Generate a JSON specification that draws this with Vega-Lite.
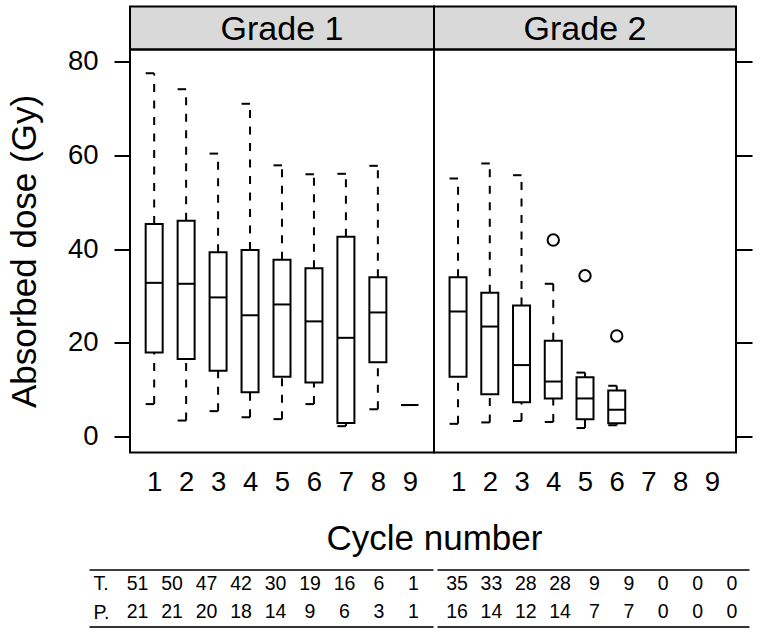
{
  "$schema": "https://vega.github.io/schema/vega-lite/v6.json",
  "autosize": {"type": "none"},
  "padding": {"left": 130, "top": 6.5, "right": 630, "bottom": 627.5},
  "background": "white",
  "config": {
    "font": "Liberation Sans",
    "axis": {"labelFont": "Liberation Sans", "titleFont": "Liberation Sans", "labelColor": "black", "titleColor": "black", "tickColor": "black", "domainColor": "black", "grid": false, "titleFontWeight": "normal", "labelFontSize": 27.5, "titleFontSize": 35},
    "view": {"stroke": "black", "strokeWidth": 2}
  },
  "datasets": {
    "boxes": [
      {"grade": "Grade 1", "cycle": 1, "lo": 7.0, "q1": 18.0, "med": 32.8, "q3": 45.3, "hi": 77.4},
      {"grade": "Grade 1", "cycle": 2, "lo": 3.5, "q1": 16.6, "med": 32.6, "q3": 46.0, "hi": 74.0},
      {"grade": "Grade 1", "cycle": 3, "lo": 5.5, "q1": 14.1, "med": 29.7, "q3": 39.3, "hi": 60.3},
      {"grade": "Grade 1", "cycle": 4, "lo": 4.2, "q1": 9.5, "med": 25.9, "q3": 39.8, "hi": 70.9},
      {"grade": "Grade 1", "cycle": 5, "lo": 3.8, "q1": 12.8, "med": 28.2, "q3": 37.7, "hi": 57.8},
      {"grade": "Grade 1", "cycle": 6, "lo": 7.0, "q1": 11.6, "med": 24.6, "q3": 35.9, "hi": 55.9},
      {"grade": "Grade 1", "cycle": 7, "lo": 2.3, "q1": 3.0, "med": 21.1, "q3": 42.6, "hi": 56.0},
      {"grade": "Grade 1", "cycle": 8, "lo": 5.9, "q1": 15.9, "med": 26.5, "q3": 34.0, "hi": 57.7},
      {"grade": "Grade 1", "cycle": 9, "lo": 6.8, "q1": 6.8, "med": 6.8, "q3": 6.8, "hi": 6.8},
      {"grade": "Grade 2", "cycle": 1, "lo": 2.8, "q1": 12.8, "med": 26.7, "q3": 34.0, "hi": 55.0},
      {"grade": "Grade 2", "cycle": 2, "lo": 3.1, "q1": 9.1, "med": 23.5, "q3": 30.7, "hi": 58.2},
      {"grade": "Grade 2", "cycle": 3, "lo": 3.4, "q1": 7.4, "med": 15.3, "q3": 28.0, "hi": 55.7},
      {"grade": "Grade 2", "cycle": 4, "lo": 3.2, "q1": 8.2, "med": 11.8, "q3": 20.5, "hi": 32.6},
      {"grade": "Grade 2", "cycle": 5, "lo": 1.9, "q1": 3.8, "med": 8.2, "q3": 12.7, "hi": 13.7},
      {"grade": "Grade 2", "cycle": 6, "lo": 2.5, "q1": 2.9, "med": 5.8, "q3": 9.9, "hi": 10.9}
    ],
    "outliers": [
      {"grade": "Grade 2", "cycle": 4, "dose": 41.9},
      {"grade": "Grade 2", "cycle": 5, "dose": 34.3},
      {"grade": "Grade 2", "cycle": 6, "dose": 21.5}
    ],
    "counts": [
      {"grade": "Grade 1", "cycle": 1, "T": 51, "P": 21},
      {"grade": "Grade 1", "cycle": 2, "T": 50, "P": 21},
      {"grade": "Grade 1", "cycle": 3, "T": 47, "P": 20},
      {"grade": "Grade 1", "cycle": 4, "T": 42, "P": 18},
      {"grade": "Grade 1", "cycle": 5, "T": 30, "P": 14},
      {"grade": "Grade 1", "cycle": 6, "T": 19, "P": 9},
      {"grade": "Grade 1", "cycle": 7, "T": 16, "P": 6},
      {"grade": "Grade 1", "cycle": 8, "T": 6, "P": 3},
      {"grade": "Grade 1", "cycle": 9, "T": 1, "P": 1},
      {"grade": "Grade 2", "cycle": 1, "T": 35, "P": 16},
      {"grade": "Grade 2", "cycle": 2, "T": 33, "P": 14},
      {"grade": "Grade 2", "cycle": 3, "T": 28, "P": 12},
      {"grade": "Grade 2", "cycle": 4, "T": 28, "P": 14},
      {"grade": "Grade 2", "cycle": 5, "T": 9, "P": 7},
      {"grade": "Grade 2", "cycle": 6, "T": 9, "P": 7},
      {"grade": "Grade 2", "cycle": 7, "T": 0, "P": 0},
      {"grade": "Grade 2", "cycle": 8, "T": 0, "P": 0},
      {"grade": "Grade 2", "cycle": 9, "T": 0, "P": 0}
    ]
  },
  "spacing": 12,
  "vconcat": [
    {
      "columns": 2,
      "bounds": "flush",
      "spacing": {"row": 0, "column": 0},
      "concat": [
        {
          "width": 304, "height": 43,
          "data": {"values": [{"grade": "Grade 1"}]},
          "mark": {"type": "text", "fontSize": 34, "font": "Liberation Sans", "color": "black", "dy": 1.5},
          "encoding": {"text": {"field": "grade"}},
          "view": {"fill": "#d9d9d9", "stroke": "black", "strokeWidth": 2}
        },
        {
          "width": 302, "height": 43,
          "data": {"values": [{"grade": "Grade 2"}]},
          "mark": {"type": "text", "fontSize": 34, "font": "Liberation Sans", "color": "black", "dy": 1.5},
          "encoding": {"text": {"field": "grade"}},
          "view": {"fill": "#d9d9d9", "stroke": "black", "strokeWidth": 2}
        },
        {
          "width": 304, "height": 403,
          "data": {"name": "boxes"},
          "transform": [{"filter": "datum.grade == 'Grade 1'"}],
          "encoding": {
            "x": {"field": "cycle", "type": "quantitative", "scale": {"domain": [0.4, 9.6], "nice": false, "zero": false},
              "axis": {"values": [1,2,3,4,5,6,7,8,9], "format": "d", "domain": false, "ticks": false, "tickSize": 0, "labelPadding": 16, "labelFontSize": 27.5, "title": "Cycle number", "titleFontSize": 35, "titleX": 304, "titlePadding": 25}}
          },
          "layer": [
            {"mark": {"type": "rule", "strokeDash": [8, 8.5], "strokeWidth": 2, "color": "black"},
             "encoding": {"y": {"field": "q3", "type": "quantitative", "scale": {"domain": [-3.3, 82.45], "nice": false, "zero": false},
               "axis": {"orient": "left", "values": [0, 20, 40, 60, 80], "domain": false, "tickSize": 16, "tickWidth": 2, "labelPadding": 16, "labelFontSize": 27.5, "title": "Absorbed dose (Gy)", "titleFontSize": 35, "titlePadding": 25}},
               "y2": {"field": "hi"}}},
            {"mark": {"type": "rule", "strokeDash": [8, 8.5], "strokeWidth": 2, "color": "black"},
             "encoding": {"y": {"field": "lo", "type": "quantitative"}, "y2": {"field": "q1"}}},
            {"mark": {"type": "tick", "orient": "horizontal", "size": 8.5, "thickness": 2, "xOffset": -4.25, "color": "black", "opacity": 1},
             "encoding": {"y": {"field": "hi", "type": "quantitative"}}},
            {"mark": {"type": "tick", "orient": "horizontal", "size": 8.5, "thickness": 2, "xOffset": -4.25, "color": "black", "opacity": 1},
             "encoding": {"y": {"field": "lo", "type": "quantitative"}}},
            {"mark": {"type": "bar", "size": 17, "fill": "white", "stroke": "black", "strokeWidth": 2, "opacity": 1},
             "encoding": {"y": {"field": "q1", "type": "quantitative"}, "y2": {"field": "q3"}}},
            {"mark": {"type": "tick", "orient": "horizontal", "size": 17, "thickness": 2, "color": "black", "opacity": 1},
             "encoding": {"y": {"field": "med", "type": "quantitative"}}}
          ]
        },
        {
          "width": 302, "height": 403,
          "encoding": {
            "x": {"field": "cycle", "type": "quantitative", "scale": {"domain": [0.4, 9.6], "nice": false, "zero": false},
              "axis": {"values": [1,2,3,4,5,6,7,8,9], "format": "d", "domain": false, "ticks": false, "tickSize": 0, "labelPadding": 16, "labelFontSize": 27.5, "title": null}}
          },
          "layer": [
            {"data": {"name": "boxes"}, "transform": [{"filter": "datum.grade == 'Grade 2'"}],
             "mark": {"type": "rule", "strokeDash": [8, 8.5], "strokeWidth": 2, "color": "black"},
             "encoding": {"y": {"field": "q3", "type": "quantitative", "scale": {"domain": [-3.3, 82.45], "nice": false, "zero": false},
               "axis": {"orient": "right", "values": [0, 20, 40, 60, 80], "domain": false, "tickSize": 16, "tickWidth": 2, "labels": false, "title": null}},
               "y2": {"field": "hi"}}},
            {"data": {"name": "boxes"}, "transform": [{"filter": "datum.grade == 'Grade 2'"}],
             "mark": {"type": "rule", "strokeDash": [8, 8.5], "strokeWidth": 2, "color": "black"},
             "encoding": {"y": {"field": "lo", "type": "quantitative"}, "y2": {"field": "q1"}}},
            {"data": {"name": "boxes"}, "transform": [{"filter": "datum.grade == 'Grade 2'"}],
             "mark": {"type": "tick", "orient": "horizontal", "size": 8.5, "thickness": 2, "xOffset": -4.25, "color": "black", "opacity": 1},
             "encoding": {"y": {"field": "hi", "type": "quantitative"}}},
            {"data": {"name": "boxes"}, "transform": [{"filter": "datum.grade == 'Grade 2'"}],
             "mark": {"type": "tick", "orient": "horizontal", "size": 8.5, "thickness": 2, "xOffset": -4.25, "color": "black", "opacity": 1},
             "encoding": {"y": {"field": "lo", "type": "quantitative"}}},
            {"data": {"name": "boxes"}, "transform": [{"filter": "datum.grade == 'Grade 2'"}],
             "mark": {"type": "bar", "size": 17, "fill": "white", "stroke": "black", "strokeWidth": 2, "opacity": 1},
             "encoding": {"y": {"field": "q1", "type": "quantitative"}, "y2": {"field": "q3"}}},
            {"data": {"name": "boxes"}, "transform": [{"filter": "datum.grade == 'Grade 2'"}],
             "mark": {"type": "tick", "orient": "horizontal", "size": 17, "thickness": 2, "color": "black", "opacity": 1},
             "encoding": {"y": {"field": "med", "type": "quantitative"}}},
            {"data": {"name": "outliers"}, "transform": [{"filter": "datum.grade == 'Grade 2'"}],
             "mark": {"type": "point", "shape": "circle", "filled": false, "size": 130, "stroke": "black", "strokeWidth": 2, "opacity": 1},
             "encoding": {"y": {"field": "dose", "type": "quantitative"}}}
          ]
        }
      ]
    },
    {
      "hconcat": [
        {
          "width": 304, "height": 57,
          "view": {"stroke": null},
          "data": {"name": "counts"},
          "transform": [{"filter": "datum.grade == 'Grade 1'"}, {"fold": ["T", "P"], "as": ["row", "n"]}],
          "layer": [
            {"mark": {"type": "text", "fontSize": 19.5, "color": "black", "font": "Liberation Sans"},
             "encoding": {
               "x": {"field": "cycle", "type": "quantitative", "scale": {"domain": [-0.406, 9.565], "range": [-41, 303], "nice": false, "zero": false},
                 "axis": {"orient": "top", "domain": true, "domainColor": "black", "domainWidth": 1.5, "ticks": false, "tickSize": 0, "labels": false, "title": null, "grid": false}},
               "y": {"field": "row", "type": "nominal", "sort": ["T", "P"], "scale": {"type": "point", "padding": 0.5},
                 "axis": {"orient": "left", "domain": false, "ticks": false, "tickSize": 0, "labelExpr": "datum.label + '.'", "labelAlign": "left", "labelPadding": 37, "labelFontSize": 19.5, "title": null}},
               "text": {"field": "n", "type": "quantitative"}}},
            {"mark": {"type": "text", "opacity": 0},
             "encoding": {
               "x": {"field": "cycle", "type": "quantitative", "axis": {"orient": "bottom", "domain": true, "domainColor": "#333", "domainWidth": 2, "ticks": false, "tickSize": 0, "labels": false, "title": null, "grid": false}},
               "text": {"field": "n", "type": "quantitative"}}}
          ],
          "resolve": {"axis": {"x": "independent"}}
        },
        {
          "width": 302, "height": 57,
          "view": {"stroke": null},
          "data": {"name": "counts"},
          "transform": [{"filter": "datum.grade == 'Grade 2'"}, {"fold": ["T", "P"], "as": ["row", "n"]}],
          "layer": [
            {"mark": {"type": "text", "fontSize": 19.5, "color": "black", "font": "Liberation Sans"},
             "encoding": {
               "x": {"field": "cycle", "type": "quantitative", "scale": {"domain": [0.418, 9.495], "range": [3, 315], "nice": false, "zero": false},
                 "axis": {"orient": "top", "domain": true, "domainColor": "black", "domainWidth": 1.5, "ticks": false, "tickSize": 0, "labels": false, "title": null, "grid": false}},
               "y": {"field": "row", "type": "nominal", "sort": ["T", "P"], "scale": {"type": "point", "padding": 0.5}, "axis": null},
               "text": {"field": "n", "type": "quantitative"}}},
            {"mark": {"type": "text", "opacity": 0},
             "encoding": {
               "x": {"field": "cycle", "type": "quantitative", "axis": {"orient": "bottom", "domain": true, "domainColor": "#333", "domainWidth": 2, "ticks": false, "tickSize": 0, "labels": false, "title": null, "grid": false}},
               "text": {"field": "n", "type": "quantitative"}}}
          ],
          "resolve": {"axis": {"x": "independent"}}
        }
      ],
      "spacing": 0,
      "bounds": "flush"
    }
  ]
}
